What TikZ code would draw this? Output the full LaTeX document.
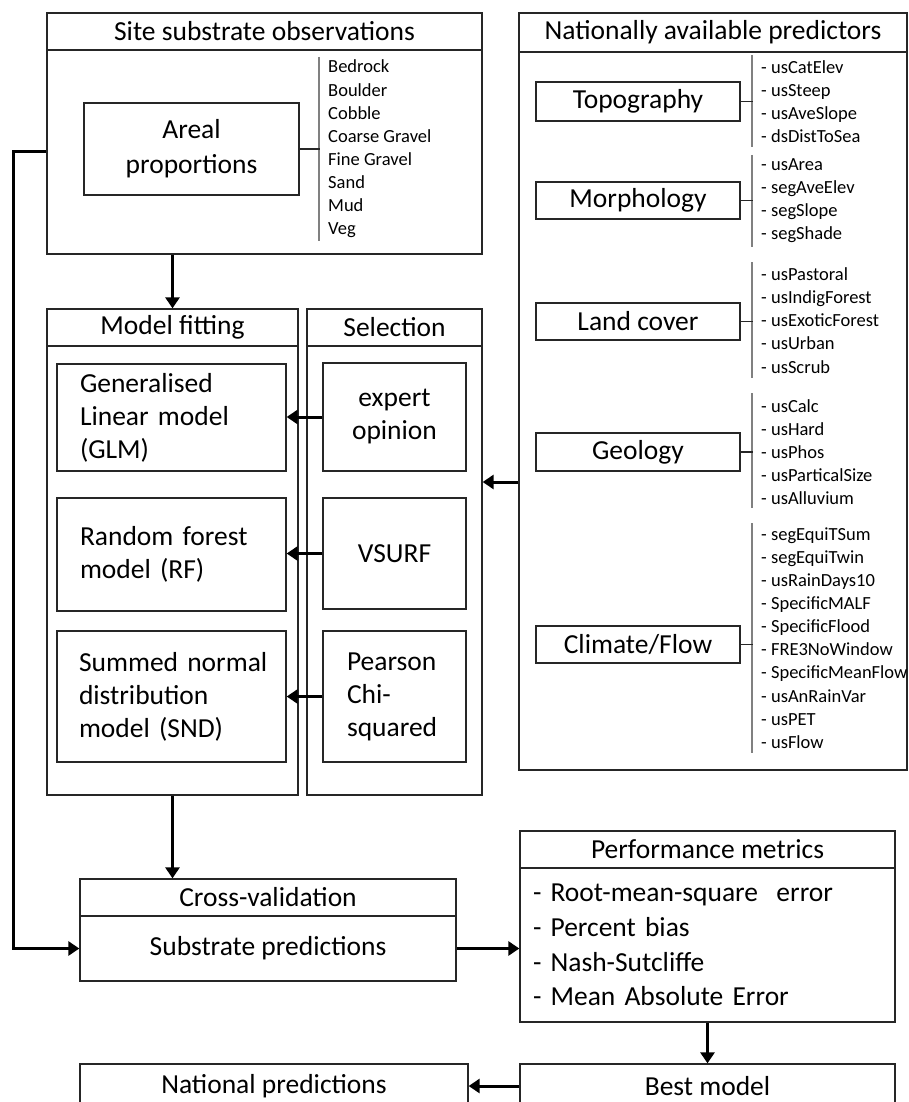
\documentclass[tikz,border=0pt]{standalone}
\usepackage{fontspec}
\setmainfont{Carlito}
\usetikzlibrary{arrows.meta}
\newcommand\bigf{\fontsize{27.5}{33}\selectfont}
\newcommand\listf{\fontsize{18.5}{23.1}\selectfont}
\begin{document}
\begin{tikzpicture}[x=1pt,y=-1pt,
  box/.style={draw=black!85, line width=1.3pt, inner sep=0pt, font=\bigf, align=center},
  arr/.style={line width=3pt, -{Triangle[width=14pt,length=11pt]}},
  conn/.style={draw=black!85, line width=1.3pt},
  gline/.style={draw=black!50, line width=2pt},
  lst/.style={anchor=west, inner sep=0pt, align=left, font=\listf}]
\useasboundingbox (0,0) rectangle (909,1102);
\clip (0,0) rectangle (909,1102);
\fill[white] (0,0) rectangle (909,1102);

% Site substrate observations
\node[box, minimum width=435pt, minimum height=37pt] (sitehead) at (264.5,31.5) {Site substrate observations};
\node[box, minimum width=435pt, minimum height=204pt] (sitebody) at (264.5,152) {};
\node[box, minimum width=215pt, minimum height=92pt, font=\fontsize{27.5}{35}\selectfont] (areal) at (191.5,149) {Areal\\proportions};
\draw[gline] (319,57) -- (319,241);
\draw[conn] (areal.east) -- ++(20,0);
\node[lst] (sitelist) at (328,149) {Bedrock\\Boulder\\Cobble\\Coarse Gravel\\Fine Gravel\\Sand\\Mud\\Veg};

% Nationally available predictors
\node[box, minimum width=388pt, minimum height=39pt] (predhead) at (713,32.5) {Nationally available predictors};
\node[box, minimum width=388pt, minimum height=718pt] (predbody) at (713,411) {};

\node[box, minimum width=204pt, minimum height=39pt] (topo) at (638,101.5) {Topography};
\draw[gline] (752,55) -- (752,147);
\draw[conn] (topo.east) -- ++(12,0);
\node[lst] (topolist) at (761,101.5) {- usCatElev\\- usSteep\\- usAveSlope\\- dsDistToSea};

\node[box, minimum width=204pt, minimum height=37pt] (morph) at (638,200.5) {Morphology};
\draw[gline] (752,155) -- (752,247);
\draw[conn] (morph.east) -- ++(12,0);
\node[lst] (morphlist) at (761,201) {- usArea\\- segAveElev\\- segSlope\\- segShade};

\node[box, minimum width=204pt, minimum height=37pt] (land) at (638,321.5) {Land cover};
\draw[gline] (752,262) -- (752,378);
\draw[conn] (land.east) -- ++(12,0);
\node[lst] (landlist) at (761,320.5) {- usPastoral\\- usIndigForest\\- usExoticForest\\- usUrban\\- usScrub};

\node[box, minimum width=204pt, minimum height=38pt] (geo) at (638,452) {Geology};
\draw[gline] (752,393) -- (752,508);
\draw[conn] (geo.east) -- ++(12,0);
\node[lst] (geolist) at (761,452) {- usCalc\\- usHard\\- usPhos\\- usParticalSize\\- usAlluvium};

\node[box, minimum width=204pt, minimum height=37pt] (clim) at (638,644.5) {Climate/Flow};
\draw[gline] (752,523) -- (752,753);
\draw[conn] (clim.east) -- ++(12,0);
\node[lst] (climlist) at (761,638) {- segEquiTSum\\- segEquiTwin\\- usRainDays10\\- SpecificMALF\\- SpecificFlood\\- FRE3NoWindow\\- SpecificMeanFlow\\- usAnRainVar\\- usPET\\- usFlow};

% Model fitting
\node[box, minimum width=251pt, minimum height=37pt] (mfhead) at (172.5,327.5) {Model fitting};
\node[box, minimum width=251pt, minimum height=449pt] (mfbody) at (172.5,570.5) {};
\node[box, minimum width=229pt, minimum height=107pt, text width=183pt, align=left] (glm) at (171.5,417.5) {\mbox{Generalised}\\\mbox{Linear model}\\\mbox{(GLM)}};
\node[box, minimum width=229pt, minimum height=113pt, text width=183pt, align=left] (rf) at (171.5,554.5) {\mbox{Random forest}\\\mbox{model (RF)}};
\node[box, minimum width=229pt, minimum height=131pt, text width=185pt, align=left] (snd) at (171.5,696.5) {\mbox{Summed normal}\\\mbox{distribution}\\\mbox{model (SND)}};

% Selection
\node[box, minimum width=175pt, minimum height=37pt] (selhead) at (394.5,327.5) {Selection};
\node[box, minimum width=175pt, minimum height=449pt] (selbody) at (394.5,570.5) {};
\node[box, minimum width=143pt, minimum height=108pt] (expert) at (394.5,417) {expert\\opinion};
\node[box, minimum width=143pt, minimum height=111pt] (vsurf) at (394.5,553.5) {VSURF};
\node[box, minimum width=143pt, minimum height=131pt, text width=95pt, align=left] (pearson) at (394.5,696.5) {\mbox{Pearson}\\\mbox{Chi-}\\\mbox{squared}};

% Cross-validation
\node[box, minimum width=376pt, minimum height=37pt] (cvhead) at (268,897.5) {Cross-validation};
\node[box, minimum width=376pt, minimum height=65pt] (cvbody) at (268,948.5) {Substrate predictions};

% Performance metrics
\node[box, minimum width=375pt, minimum height=37pt] (pmhead) at (707.5,849.5) {Performance metrics};
\node[box, minimum width=375pt, minimum height=154pt, text width=349pt, align=left, font=\fontsize{27.5}{34.7}\selectfont] (pmbody) at (707.5,945) {- Root-mean-square\ \ error\\- Percent bias\\- Nash-Sutcliffe\\- Mean Absolute Error};

% Bottom
\node[box, minimum width=375pt, minimum height=44pt] (best) at (707.5,1086) {Best model};
\node[box, minimum width=388pt, minimum height=44pt] (natpred) at (274,1086) {National predictions};

% Connectors
\coordinate (fb) at (13,0);
\coordinate (ya) at (0,482);
\draw[arr] (sitebody.south -| mfhead.north) -- (mfhead.north);
\draw[arr, line join=miter] (sitebody.west) -- (sitebody.west -| fb) |- (cvbody.west);
\draw[arr] (predbody.west |- ya) -- (selbody.east |- ya);
\draw[arr] (expert.west) -- (expert.west -| glm.east);
\draw[arr] (vsurf.west) -- (vsurf.west -| rf.east);
\draw[arr] (pearson.west) -- (pearson.west -| snd.east);
\draw[arr] (mfbody.south) -- (mfbody.south |- cvhead.north);
\draw[arr] (cvbody.east) -- (cvbody.east -| pmbody.west);
\draw[arr] (pmbody.south) -- (best.north);
\draw[arr] (best.west) -- (best.west -| natpred.east);
\end{tikzpicture}
\end{document}
